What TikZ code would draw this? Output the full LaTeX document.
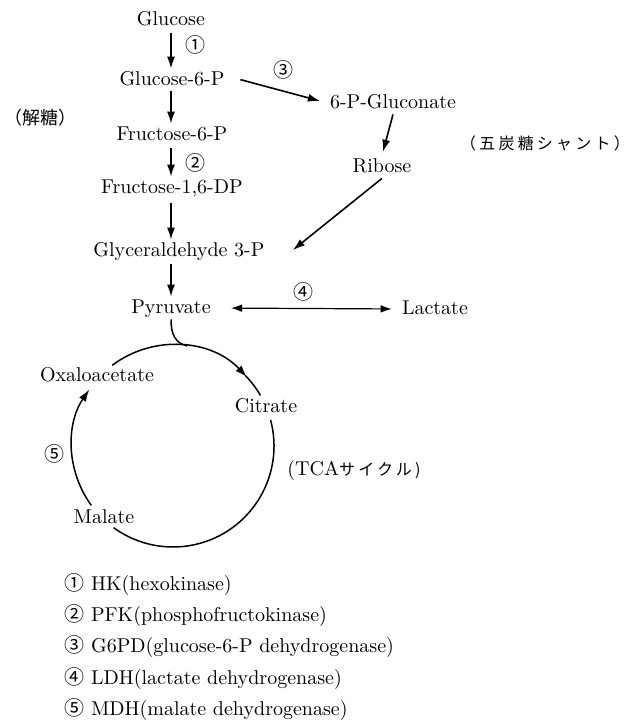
\documentclass[tikz,border=0pt]{standalone}
\usepackage{fontspec}
\newfontfamily\jp{Noto Sans CJK JP}
\newfontfamily\jpw[LetterSpace=20]{Noto Sans CJK JP}
\usetikzlibrary{arrows.meta,calc}
\newcommand\cnum[1]{{\jp\fontsize{10}{10}\selectfont #1}}
\tikzset{
  lbl/.style={inner sep=1pt, font=\fontsize{10}{12}\selectfont, text height=7pt, text depth=2pt},
  enz/.style={inner sep=0pt},
  jpnote/.style={inner sep=0pt, font=\fontsize{8}{10}\selectfont},
  legend/.style={inner sep=0pt, anchor=west, font=\fontsize{10}{12}\selectfont},
  arr/.style={-{Latex[length=6pt,width=4pt]}, line width=0.8pt},
  darr/.style={{Latex[length=5.5pt,width=3.8pt]}-{Latex[length=5.5pt,width=3.8pt]}, line width=0.6pt},
  cyc/.style={line width=0.75pt},
  cycarr/.style={line width=0.75pt, -{Latex[length=6pt,width=4pt]}}
}
\begin{document}
\begin{tikzpicture}[x=0.5pt,y=0.5pt]
\useasboundingbox (0,0) rectangle (630,720);
% glycolysis
\node[lbl] (glc) at (171,700) {Glucose};
\node[lbl] (g6p) at (172,640) {Glucose-6-P};
\node[lbl] (f6p) at (172,585) {Fructose-6-P};
\node[lbl] (fdp) at (172,532) {Fructose-1,6-DP};
\node[lbl] (gap) at (179,469) {Glyceraldehyde 3-P};
\node[lbl] (pyr) at (171,412) {Pyruvate};
\node[lbl] (lac) at (435,411) {Lactate};
% pentose shunt
\node[lbl] (gluc) at (393,617) {6-P-Gluconate};
\node[lbl] (rib) at (382,553) {Ribose};
% notes
\node[jpnote, font=\fontsize{9}{10}\selectfont] (glyco) at (40,602) {\jp （解糖）};
\node[jpnote] (ppp) at (545,577) {\jpw （五炭糖シャント）};
% enzymes
\node[enz] (e1) at (195,675) {\cnum{①}};
\node[enz] (e2) at (195,557) {\cnum{②}};
\node[enz] (e3) at (283,650) {\cnum{③}};
\node[enz] (e4) at (303,428) {\cnum{④}};
\node[enz] (e5) at (55,266) {\cnum{⑤}};
% arrows
\draw[arr, shorten <=1pt] (glc.south -| pyr.north) -- (g6p.north -| pyr.north);
\draw[arr] (g6p.south -| pyr.north) -- (f6p.north -| pyr.north);
\draw[arr, shorten <=1pt] (f6p.south -| pyr.north) -- (fdp.north -| pyr.north);
\draw[arr, shorten <=2pt] (fdp.south -| pyr.north) -- (gap.north -| pyr.north);
\draw[arr, shorten <=1pt] (gap.south -| pyr.north) -- (pyr.north);
\draw[arr, shorten <=7pt, shorten >=4pt] ($(g6p.east)+(0,4)$) -- (gluc.west);
\draw[arr, shorten >=2pt] (gluc.south) -- (rib.north);
\coordinate (ribend) at ($(gap.east)+(26,1)$);
\draw[arr] (rib.south) -- (ribend);
\draw[darr, shorten <=9pt, shorten >=4pt] (pyr.east) -- (lac.west);
% TCA cycle
\coordinate (C) at (173,274);
\node[lbl] (oaa) at (97,343) {Oxaloacetate};
\node[lbl] (cit) at (266,312) {Citrate};
\node[lbl] (mal) at (104,202) {Malate};
\node[inner sep=0pt] (tca) at (354,249) {\fontsize{10}{12}\selectfont (TCA\jpw\fontsize{8}{10}\selectfont サイクル)};
\draw[cyc] (pyr.south) .. controls (171,386) and (175,377) .. ($(C)+(82:101)$);
\draw[cycarr] ($(C)+(127:101)$) arc[start angle=127, end angle=43, radius=101];
\draw[cyc] ($(C)+(44:101)$) arc[start angle=44, end angle=30, radius=101];
\draw[cyc] ($(C)+(15:101)$) arc[start angle=15, end angle=-126, radius=101];
\draw[cycarr] ($(C)+(216:101)$) arc[start angle=216, end angle=146, radius=101];
% legend
\node[legend] (l1) at (64,135) {\cnum{①} HK(hexokinase)};
\node[legend] (l2) at (64,104) {\cnum{②} PFK(phosphofructokinase)};
\node[legend] (l3) at (64,73) {\cnum{③} G6PD(glucose-6-P dehydrogenase)};
\node[legend] (l4) at (64,41) {\cnum{④} LDH(lactate dehydrogenase)};
\node[legend] (l5) at (64,10) {\cnum{⑤} MDH(malate dehydrogenase)};
\end{tikzpicture}
\end{document}
